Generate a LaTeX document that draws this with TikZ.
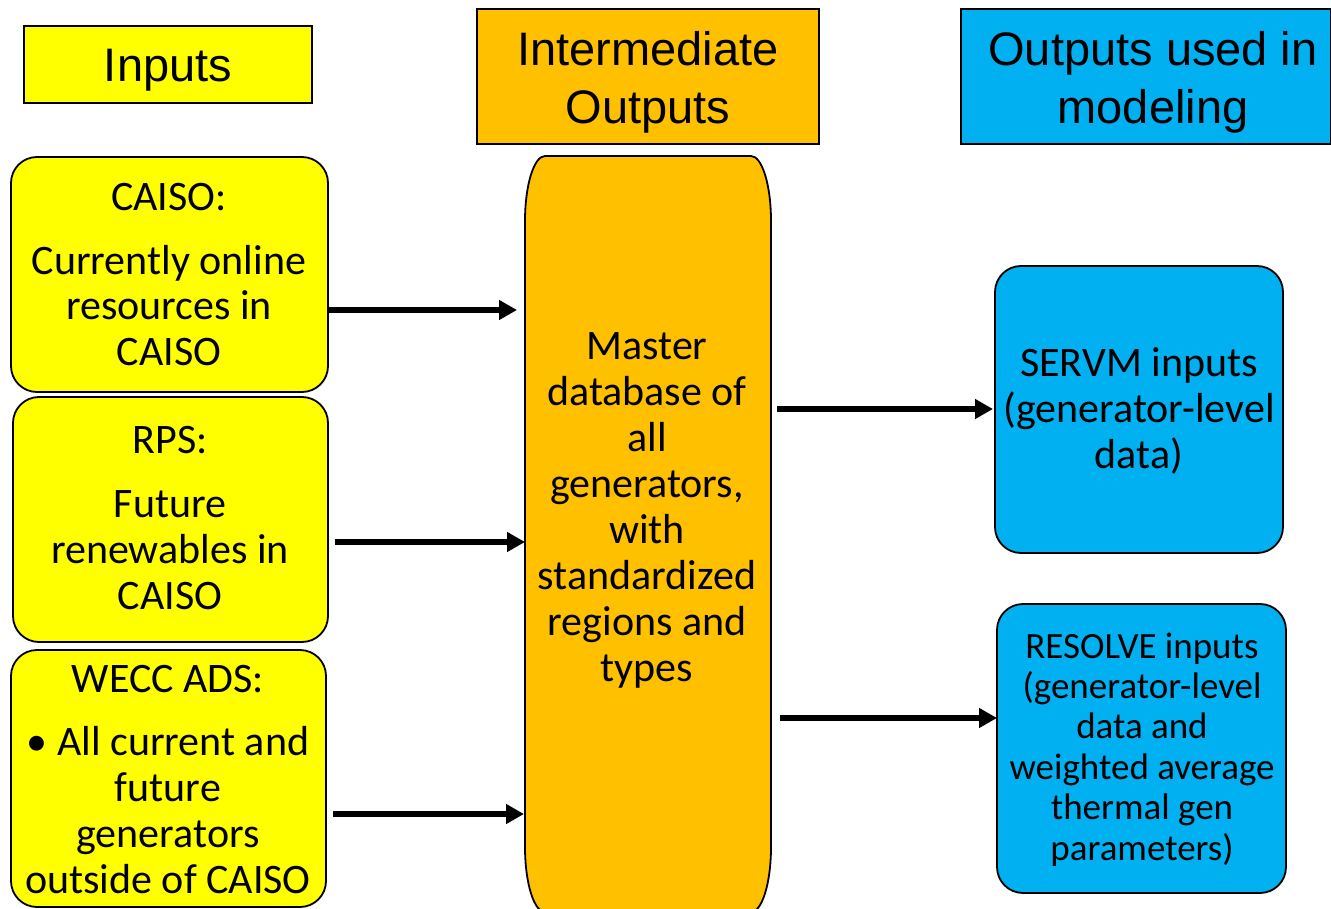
\documentclass[tikz,border=0pt]{standalone}
\usepackage{fontspec}
\usetikzlibrary{arrows.meta}
\newfontfamily\calib{Carlito}
\newfontfamily\arialf{Liberation Sans}
\definecolor{inyellow}{HTML}{FFFF00}
\definecolor{midorange}{HTML}{FFC000}
\definecolor{outblue}{HTML}{00B0F0}
\newcommand\ts[1]{\vrule width0pt height#1pt\relax}
\newcommand\bs[1]{\vrule width0pt depth#1pt\relax}
\tikzset{
  hdr/.style={draw=black, line width=1.6pt, inner sep=0pt, outer sep=0pt},
  rbox/.style={draw=black, line width=1.8pt, rounded corners=26pt, inner sep=0pt, outer sep=0pt},
  btxt/.style={inner sep=0pt, align=center, font=\calib\fontsize{42}{46}\selectfont},
  stxt/.style={inner sep=0pt, align=center, font=\calib\fontsize{37}{40.4}\selectfont},
  htxt/.style={inner sep=0pt, align=center, font=\arialf\fontsize{47}{58}\selectfont},
  arr/.style={line width=5.2pt, -{Triangle[length=18pt,width=19pt]}}
}
\begin{document}
\begin{tikzpicture}[x=1pt,y=1pt]
\useasboundingbox (0,0) rectangle (1331,-909);
\clip (0,0) rectangle (1331,-909);
% headers
\node[hdr, fill=inyellow, minimum width=288, minimum height=77] (hin) at (168,-64.5) {};
\node[htxt] (hinT) at (168,-69.5) {\ts{36}Inputs\bs{11}};
\node[hdr, fill=midorange, minimum width=342, minimum height=135] (hmid) at (648,-76.5) {};
\node[htxt] (hmidT) at (648,-82) {\ts{36}Intermediate\\Outputs\bs{11}};
\node[hdr, fill=outblue, minimum width=370, minimum height=135] (hout) at (1146,-76.5) {};
\node[htxt] (houtT) at (1153,-82) {\ts{36}Outputs used in\\modeling\bs{11}};
% input boxes
\node[rbox, fill=inyellow, minimum width=317, minimum height=235] (caiso) at (169.5,-274.5) {};
\node[btxt] (caisoT) at (169,-278) {\ts{30}CAISO:\\[18pt]Currently online\\resources in\\CAISO\bs{10}};
\node[rbox, fill=inyellow, minimum width=315, minimum height=245] (rps) at (170.5,-519.5) {};
\node[btxt] (rpsT) at (170,-521) {\ts{30}RPS:\\[18pt]Future\\renewables in\\CAISO\bs{10}};
\node[rbox, fill=inyellow, minimum width=315, minimum height=257] (wecc) at (168.5,-778.5) {};
\node[btxt] (weccT) at (168,-783) {\ts{30}WECC ADS:\\[17pt]• All current and\\future\\generators\\outside of CAISO\bs{10}};
% master
\node[inner sep=0pt, outer sep=0pt, minimum width=246, minimum height=756] (master) at (648,-534) {};
\draw[line width=1.8pt, fill=midorange]
  (master.west |- 0,-221) -- (525,-847)
  arc[start angle=180, end angle=270, x radius=20, y radius=65] -- (751,-912)
  arc[start angle=270, end angle=360, x radius=20, y radius=65] -- (771,-221)
  arc[start angle=0, end angle=90, x radius=20, y radius=65] -- (545,-156)
  arc[start angle=90, end angle=180, x radius=20, y radius=65] -- cycle;
\node[btxt] (masterT) at (647,-510.5) {\ts{30}Master\\database of\\all\\generators,\\with\\standardized\\regions and\\types\bs{10}};
% output boxes
\node[rbox, fill=outblue, minimum width=288, minimum height=287] (servm) at (1139,-409.5) {};
\node[btxt] (servmT) at (1139,-412) {\ts{30}SERVM inputs\\(generator-level\\data)\bs{10}};
\node[rbox, fill=outblue, minimum width=289, minimum height=289] (resolve) at (1141.5,-748.5) {};
\node[stxt] (resolveT) at (1142,-750.5) {\ts{26}RESOLVE inputs\\(generator-level\\data and\\weighted average\\thermal gen\\parameters)\bs{9}};
% arrows
\coordinate (y1) at (0,-310);
\coordinate (y2) at (0,-542);
\coordinate (y3) at (0,-814);
\coordinate (y4) at (0,-409);
\coordinate (y5) at (0,-718);
\draw[arr] (caiso.east |- y1) -- ([xshift=-8pt]master.west |- y1);
\draw[arr] ([xshift=7pt]rps.east |- y2) -- (master.west |- y2);
\draw[arr] ([xshift=7pt]wecc.east |- y3) -- ([xshift=-1pt]master.west |- y3);
\draw[arr] ([xshift=6pt]master.east |- y4) -- ([xshift=-2pt]servm.west |- y4);
\draw[arr] ([xshift=9pt]master.east |- y5) -- (resolve.west |- y5);
\end{tikzpicture}
\end{document}
